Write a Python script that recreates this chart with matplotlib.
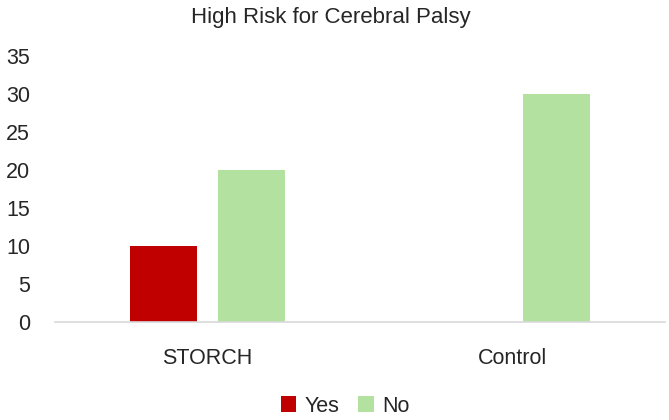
import matplotlib
matplotlib.use("Agg")
import matplotlib.pyplot as plt
import numpy as np

categories = ["STORCH", "Control"]
series_names = ["Yes", "No"]
yes_values = [10, 0]
no_values = [20, 30]
y_ticks = [0, 5, 10, 15, 20, 25, 30, 35]

plt.rcParams["font.family"] = ["Liberation Sans", "DejaVu Sans"]

fig = plt.figure(figsize=(6.69, 4.20), dpi=100)
ax = fig.add_axes([55/669, 1 - 322/420, 610/669, (322-56)/420])

x = np.arange(len(categories))
w = 0.22
off = 0.143
ax.bar(x - off, yes_values, w, color="#C00000", label=series_names[0])
ax.bar(x + off, no_values, w, color="#B3E2A0", label=series_names[1])

ax.set_xlim(-0.5, 1.5)
ax.set_ylim(0, 35)
ax.set_yticks(y_ticks)
ax.set_xticks(x)
ax.set_xticklabels(categories)
for s in ["top", "right", "left"]:
    ax.spines[s].set_visible(False)
ax.spines["bottom"].set_color("#D9D9D9")
ax.spines["bottom"].set_linewidth(1.2)
ax.tick_params(axis="y", length=0, pad=18, labelsize=15.5, labelcolor="#262626")
ax.tick_params(axis="x", length=0, pad=19, labelsize=15.5, labelcolor="#262626")

fig.text(0.5 - 4/669, 1 - 18/420, "High Risk for Cerebral Palsy", ha="center", va="center",
         fontsize=16, color="#262626")

leg = fig.legend(loc="center", bbox_to_anchor=(345/669, 1 - 406/420), ncol=2, frameon=False,
                 fontsize=15.5, handlelength=0.7, handleheight=0.7, handletextpad=0.4,
                 columnspacing=0.9, labelcolor="#262626")

fig.savefig("out.png", dpi=100)
